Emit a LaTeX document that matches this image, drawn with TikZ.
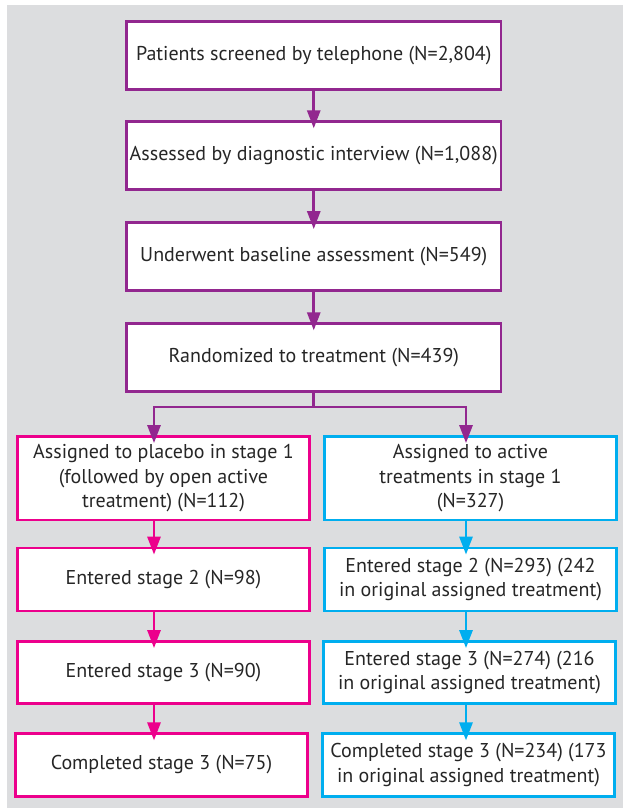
\documentclass[tikz,border=0pt]{standalone}
\usepackage{fontspec}
\setmainfont{PT Sans}
\usetikzlibrary{arrows.meta,positioning}
\definecolor{bggray}{HTML}{DCDDDF}
\definecolor{cpurple}{HTML}{92278F}
\definecolor{cpink}{HTML}{EC008C}
\definecolor{ccyan}{HTML}{00AEEF}
\begin{document}
\begin{tikzpicture}[x=1pt,y=1pt,
  boxbase/.style={draw, fill=white, line width=2.8pt, inner sep=0pt, align=center,
     font=\fontsize{20}{24.5}\selectfont, text=black!85},
  topbox/.style={boxbase, draw=cpurple, minimum width=374.5pt, minimum height=68pt},
  leftbox/.style={boxbase, draw=cpink, minimum width=292pt},
  rightbox/.style={boxbase, draw=ccyan, minimum width=292pt},
  arrbase/.style={line width=2.8pt, -{Triangle[width=13pt,length=18pt]}, shorten >=-8pt},
  arrP/.style={arrbase, draw=cpurple},
  arrK/.style={arrbase, draw=cpink},
  arrC/.style={arrbase, draw=ccyan}]
\useasboundingbox (0,0) rectangle (623,-809);
\fill[white] (0,0) rectangle (623,-809);
\fill[bggray] (7,-5) rectangle (623,-808);

\node[topbox] (b1) at (313.75,-55.5) {Patients screened by telephone (N=2,804)};
\node[topbox] (b2) at (313.75,-155.75) {Assessed by diagnostic interview (N=1,088)};
\node[topbox] (b3) at (313.75,-256.5) {Underwent baseline assessment (N=549)};
\node[topbox] (b4) at (313.75,-357.75) {Randomized to treatment (N=439)};

\node[leftbox, minimum height=83.5pt] (l1) at (163.5,-478.25) {Assigned to placebo in stage 1\\(followed by open active\\treatment) (N=112)};
\node[leftbox, minimum height=63pt] (l2) at (163.5,-579.5) {Entered stage 2 (N=98)};
\node[leftbox, minimum height=62pt] (l3) at (163.5,-672.5) {Entered stage 3 (N=90)};
\node[leftbox, minimum height=62.4pt] (l4) at (161.5,-765) {Completed stage 3 (N=75)};

\node[rightbox, minimum height=83.5pt] (r1) at (470.5,-478.25) {Assigned to active\\treatments in stage 1\\(N=327)};
\node[rightbox, minimum height=63pt] (r2) at (470.5,-579.5) {Entered stage 2 (N=293) (242\\in original assigned treatment)};
\node[rightbox, minimum height=62pt] (r3) at (469.5,-672.5) {Entered stage 3 (N=274) (216\\in original assigned treatment)};
\node[rightbox, minimum height=62.4pt] (r4) at (468.5,-765) {Completed stage 3 (N=234) (173\\in original assigned treatment)};

\draw[arrP] (b1.south) -- (b2.north);
\draw[arrP] (b2.south) -- (b3.north);
\draw[arrP] (b3.south) -- (b4.north);

\coordinate (jl) at (154,-407);
\coordinate (jr) at (466,-407);
\draw[arrP] (b4.south) |- (jl) -- (jl |- l1.north);
\draw[arrP] (b4.south) |- (jr) -- (jr |- r1.north);

\draw[arrK] (l1.south -| jl) -- (l2.north -| jl);
\draw[arrK] (l2.south -| jl) -- (l3.north -| jl);
\draw[arrK] (l3.south -| jl) -- (l4.north -| jl);

\draw[arrC] (r1.south -| jr) -- (r2.north -| jr);
\draw[arrC] (r2.south -| jr) -- (r3.north -| jr);
\draw[arrC] (r3.south -| jr) -- (r4.north -| jr);
\end{tikzpicture}
\end{document}
